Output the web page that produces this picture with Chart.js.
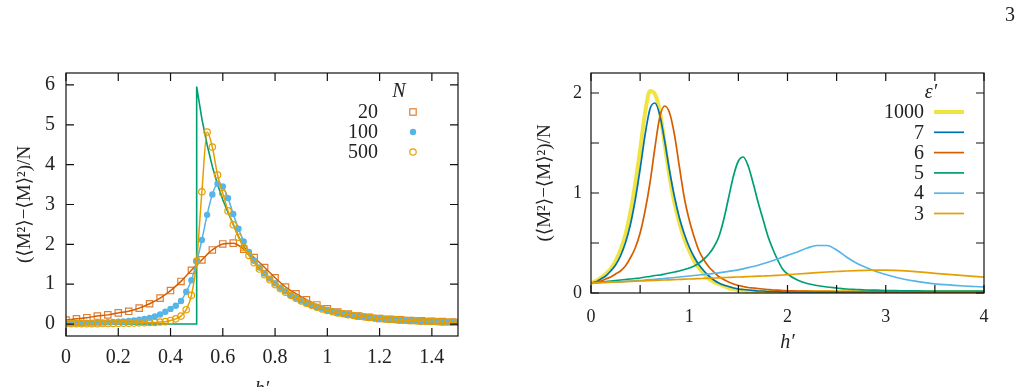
<!DOCTYPE html>
<html>
<head>
<meta charset="utf-8">
<script src="https://cdn.jsdelivr.net/npm/chart.js@4.4.0/dist/chart.umd.min.js"></script>
<style>
  html, body { margin: 0; padding: 0; background: #fff; overflow: hidden; }
  body { width: 1021px; height: 387px; position: relative; }
  #left { position: absolute; left: 0; top: 0; }
  #right { position: absolute; left: 500px; top: 0; }
  #page { position: absolute; left: 1005px; top: 4px; font: 20px/20px "Liberation Serif", serif; color: #222; }
</style>
</head>
<body>
<canvas id="left" width="480" height="410"></canvas>
<canvas id="right" width="521" height="387"></canvas>
<div id="page">3</div>
<script>
// ---- left panel : fluctuations vs h' for several N ----
const hFine = [0,0.02,0.04,0.06,0.08,0.1,0.12,0.14,0.16,0.18,0.2,0.22,0.24,0.26,0.28,0.3,0.32,0.34,0.36,0.38,
  0.4,0.42,0.44,0.46,0.48,0.5,0.52,0.54,0.56,0.58,0.6,0.62,0.64,0.66,0.68,0.7,0.72,0.74,0.76,0.78,
  0.8,0.82,0.84,0.86,0.88,0.9,0.92,0.94,0.96,0.98,1,1.02,1.04,1.06,1.08,1.1,1.12,1.14,1.16,1.18,
  1.2,1.22,1.24,1.26,1.28,1.3,1.32,1.34,1.36,1.38,1.4,1.42,1.44,1.46,1.48,1.5];
const hCoarse = [0,0.04,0.08,0.12,0.16,0.2,0.24,0.28,0.32,0.36,0.4,0.44,0.48,0.52,0.56,0.6,0.64,0.68,0.72,0.76,
  0.8,0.84,0.88,0.92,0.96,1,1.04,1.08,1.12,1.16,1.2,1.24,1.28,1.32,1.36,1.4,1.44,1.48];
const chiN20 = [0.10,0.13,0.16,0.20,0.23,0.28,0.32,0.40,0.51,0.65,0.84,1.07,1.35,1.61,1.86,2.01,2.03,1.88,1.67,1.42,
  1.16,0.93,0.76,0.61,0.48,0.38,0.30,0.25,0.20,0.17,0.14,0.12,0.105,0.09,0.08,0.07,0.06,0.05];
const chiN100 = [0.02,0.02,0.025,0.025,0.03,0.03,0.035,0.04,0.045,0.05,
  0.06,0.065,0.075,0.09,0.11,0.13,0.155,0.19,0.24,0.31,
  0.38,0.46,0.58,0.81,1.10,1.57,2.11,2.74,3.25,3.52,
  3.45,3.16,2.76,2.39,2.07,1.81,1.59,1.42,1.27,1.14,
  1.02,0.91,0.82,0.73,0.66,0.59,0.53,0.48,0.43,0.39,
  0.35,0.32,0.29,0.26,0.24,0.22,0.20,0.18,0.16,0.145,
  0.13,0.12,0.115,0.105,0.10,0.09,0.085,0.08,0.075,0.07,
  0.065,0.06,0.055,0.05,0.045,0.04];
const chiN500 = [0.01,0.01,0.01,0.01,0.01,0.01,0.01,0.012,0.013,0.015,
  0.017,0.02,0.022,0.025,0.03,0.035,0.04,0.04,0.05,0.06,
  0.09,0.13,0.20,0.36,0.72,1.58,3.32,4.82,4.44,3.74,
  3.28,2.84,2.49,2.18,1.92,1.72,1.54,1.38,1.24,1.11,
  0.99,0.89,0.80,0.72,0.65,0.58,0.52,0.47,0.42,0.38,
  0.34,0.31,0.28,0.26,0.235,0.215,0.195,0.18,0.165,0.15,
  0.14,0.125,0.115,0.11,0.10,0.095,0.09,0.08,0.075,0.07,
  0.065,0.06,0.055,0.05,0.045,0.04];
// N -> infinity limit (green, not in the key)
const hLimit = [0,0.5,0.5,0.52,0.54,0.56,0.58,0.6,0.62,0.64,0.66,0.68,0.7,0.72,0.74,0.76,0.78,
  0.8,0.82,0.84,0.86,0.88,0.9,0.92,0.94,0.96,0.98,1,1.02,1.04,1.06,1.08,1.1,1.12,1.14,1.16,1.18,
  1.2,1.22,1.24,1.26,1.28,1.3,1.32,1.34,1.36,1.38,1.4,1.42,1.44,1.46,1.48,1.5];
const chiLimit = [0,0,5.96,5.15,4.5,3.95,3.5,3.12,2.8,2.5,2.2,1.95,1.74,1.56,1.4,1.26,1.13,
  1.01,0.9,0.81,0.72,0.65,0.58,0.52,0.47,0.42,0.38,0.34,0.31,0.28,0.26,0.235,0.215,0.195,0.18,0.165,0.15,
  0.14,0.125,0.115,0.11,0.10,0.095,0.09,0.08,0.075,0.07,0.065,0.06,0.055,0.05,0.045,0.04];
const labelsN = ['20', '100', '500'];
const leftXTicks = [0,0.2,0.4,0.6,0.8,1,1.2,1.4];
const leftYTicks = [0,1,2,3,4,5,6];

// ---- right panel : fluctuations vs h' for several eps' ----
const hRight = [0,0.05,0.1,0.15,0.2,0.25,0.3,0.35,0.4,0.45,0.5,0.55,0.6,0.65,0.7,0.75,0.8,0.85,0.9,0.95,
  1,1.05,1.1,1.15,1.2,1.25,1.3,1.35,1.4,1.45,1.5,1.55,1.6,1.65,1.7,1.75,1.8,1.85,1.9,1.95,2,
  2.1,2.2,2.3,2.4,2.5,2.6,2.7,2.8,2.9,3,3.1,3.2,3.3,3.4,3.5,3.6,3.7,3.8,3.9,4];
const epsLabels = ['1000', '7', '6', '5', '4', '3'];
const chiEps1000 = [0.10,0.12,0.15,0.19,0.24,0.32,0.43,0.58,0.80,1.09,
  1.43,1.80,2.02,1.99,1.82,1.49,1.16,0.90,0.70,0.54,
  0.42,0.32,0.25,0.19,0.14,0.11,0.09,0.07,0.05,0.04,
  0.03,0.025,0.02,0.02,0.015,0.015,0.012,0.012,0.01,0.01,0.01,
  0.01,0.01,0.01,0.01,0.01,0.01,0.01,0.01,0.01,0.01,0.01,0.01,0.01,0.01,0.01,0.01,0.01,0.01,0.01,0.01];
const chiEps7 = [0.10,0.11,0.14,0.17,0.22,0.28,0.37,0.50,0.68,0.93,
  1.24,1.58,1.84,1.90,1.78,1.52,1.22,0.96,0.75,0.59,
  0.46,0.36,0.28,0.22,0.17,0.13,0.10,0.08,0.065,0.05,
  0.04,0.035,0.03,0.025,0.02,0.02,0.015,0.015,0.015,0.01,0.01,
  0.01,0.01,0.01,0.01,0.01,0.01,0.01,0.01,0.01,0.01,0.01,0.01,0.01,0.01,0.01,0.01,0.01,0.01,0.01,0.01];
const chiEps6 = [0.10,0.11,0.12,0.14,0.16,0.19,0.22,0.27,0.35,0.45,
  0.60,0.82,1.10,1.45,1.76,1.87,1.80,1.58,1.26,0.95,
  0.73,0.56,0.42,0.33,0.26,0.21,0.165,0.135,0.11,0.09,
  0.075,0.065,0.055,0.05,0.045,0.04,0.035,0.03,0.028,0.025,0.022,
  0.02,0.018,0.017,0.016,0.015,0.014,0.013,0.013,0.012,0.012,0.011,0.011,0.011,0.01,0.01,0.01,0.01,0.01,0.01,0.01];
const chiEps5 = [0.10,0.105,0.11,0.115,0.12,0.125,0.13,0.135,0.14,0.145,
  0.15,0.16,0.165,0.175,0.18,0.19,0.20,0.21,0.22,0.235,
  0.25,0.27,0.30,0.34,0.39,0.46,0.56,0.73,0.95,1.17,
  1.32,1.36,1.27,1.10,0.91,0.74,0.57,0.44,0.33,0.24,0.19,
  0.13,0.095,0.075,0.06,0.05,0.04,0.035,0.03,0.028,0.025,0.023,0.022,0.021,0.02,0.02,0.02,0.02,0.02,0.02,0.02];
const chiEps4 = [0.10,0.102,0.104,0.106,0.108,0.11,0.113,0.116,0.119,0.122,
  0.125,0.129,0.133,0.137,0.141,0.145,0.15,0.155,0.16,0.165,
  0.17,0.175,0.18,0.185,0.19,0.196,0.202,0.209,0.216,0.224,
  0.232,0.242,0.253,0.265,0.278,0.292,0.307,0.323,0.34,0.358,0.376,
  0.41,0.45,0.475,0.475,0.43,0.36,0.30,0.255,0.215,0.185,0.158,0.135,0.118,0.104,0.092,0.083,0.076,0.07,0.065,0.06];
const chiEps3 = [0.10,0.102,0.104,0.106,0.108,0.11,0.112,0.114,0.116,0.118,
  0.12,0.122,0.124,0.126,0.128,0.13,0.132,0.134,0.136,0.138,
  0.14,0.142,0.144,0.146,0.148,0.15,0.152,0.154,0.156,0.158,
  0.16,0.162,0.164,0.166,0.168,0.17,0.172,0.174,0.177,0.18,0.183,
  0.19,0.197,0.204,0.21,0.215,0.22,0.224,0.227,0.229,0.229,0.226,0.221,0.214,0.206,0.197,0.189,0.181,0.173,0.166,0.16];
const rightXTicks = [0,0.5,1,1.5,2,2.5,3,3.5,4];
const rightYTicks = [0,0.5,1,1.5,2];

const yTitle = '(\u27E8M\u00B2\u27E9\u2212\u27E8M\u27E9\u00B2)/N';
const serif = '"Liberation Serif", "DejaVu Serif", serif';

Chart.defaults.font.family = serif;
Chart.defaults.color = '#222';

const pts = (xs, ys) => xs.map((x, i) => ({x: x, y: ys[i]}));

// box round the plot with gnuplot style inward ticks on all four sides
function frameTicks(xTicks, yTicks, len) {
  return {
    id: 'frameTicks',
    afterDatasetsDraw(chart) {
      const {ctx, chartArea: a, scales: {x, y}} = chart;
      ctx.save();
      ctx.strokeStyle = '#111';
      ctx.lineWidth = 1.2;
      ctx.beginPath();
      xTicks.forEach(v => {
        const px = x.getPixelForValue(v);
        ctx.moveTo(px, a.bottom); ctx.lineTo(px, a.bottom - len);
        ctx.moveTo(px, a.top); ctx.lineTo(px, a.top + len);
      });
      yTicks.forEach(v => {
        const py = y.getPixelForValue(v);
        ctx.moveTo(a.left, py); ctx.lineTo(a.left + len, py);
        ctx.moveTo(a.right, py); ctx.lineTo(a.right - len, py);
      });
      ctx.stroke();
      ctx.strokeRect(a.left, a.top, a.right - a.left, a.bottom - a.top);
      ctx.restore();
    }
  };
}

// key of the left panel: title N, labels right aligned, marker on the right
const keyLeft = {
  id: 'keyLeft',
  afterDraw(chart) {
    const {ctx, chartArea: a} = chart;
    ctx.save();
    ctx.fillStyle = '#222';
    ctx.textBaseline = 'middle';
    ctx.textAlign = 'center';
    ctx.font = 'italic 20px ' + serif;
    ctx.fillText('N', a.right - 59, a.top + 19);
    ctx.textAlign = 'right';
    ctx.font = '20px ' + serif;
    chart.data.datasets.slice(1).forEach((ds, i) => {
      const yy = a.top + 39 + 20 * i;
      ctx.fillText(ds.label, a.right - 80, yy + 1);
      const mx = a.right - 45;
      ctx.lineWidth = 1.2;
      ctx.strokeStyle = ds.pointBorderColor;
      ctx.fillStyle = ds.pointBackgroundColor;
      if (ds.pointStyle === 'rect') {
        ctx.strokeRect(mx - 3.2, yy - 3.2, 6.4, 6.4);
      } else {
        ctx.beginPath();
        ctx.arc(mx, yy, ds.pointRadius, 0, Math.PI * 2);
        ctx.fill();
        if (ds.pointBorderWidth > 0) ctx.stroke();
      }
      ctx.fillStyle = '#222';
    });
    ctx.restore();
  }
};

// key of the right panel: title eps', labels right aligned, line sample on the right
const keyRight = {
  id: 'keyRight',
  afterDraw(chart) {
    const {ctx, chartArea: a} = chart;
    ctx.save();
    ctx.fillStyle = '#222';
    ctx.textBaseline = 'middle';
    ctx.textAlign = 'center';
    ctx.font = 'italic 20px ' + serif;
    ctx.fillText('\u03B5\u2032', a.right - 53, a.top + 20);
    ctx.textAlign = 'right';
    ctx.font = '20px ' + serif;
    chart.data.datasets.forEach((ds, i) => {
      const yy = a.top + 39 + 20.3 * i;
      ctx.fillText(ds.label, a.right - 60, yy + 1);
      ctx.strokeStyle = ds.borderColor;
      ctx.lineWidth = ds.borderWidth;
      ctx.beginPath();
      ctx.moveTo(a.right - 50, yy);
      ctx.lineTo(a.right - 20, yy);
      ctx.stroke();
    });
    ctx.restore();
  }
};

new Chart(document.getElementById('left'), {
  type: 'line',
  data: {
    datasets: [
      {label: 'limit', data: pts(hLimit, chiLimit), borderColor: '#009e73', borderWidth: 1.6,
       pointRadius: 0, tension: 0, order: 4},
      {label: labelsN[0], data: pts(hCoarse, chiN20), borderColor: '#d55e00', borderWidth: 1.5,
       pointStyle: 'rect', pointRadius: 4.5, pointBorderWidth: 1.2,
       pointBorderColor: 'rgba(213,94,0,0.8)', pointBackgroundColor: 'rgba(0,0,0,0)',
       cubicInterpolationMode: 'monotone', order: 3},
      {label: labelsN[1], data: pts(hFine, chiN100), borderColor: '#56b4e9', borderWidth: 1.5,
       pointStyle: 'circle', pointRadius: 3.2, pointBorderWidth: 0,
       pointBorderColor: '#56b4e9', pointBackgroundColor: '#56b4e9',
       cubicInterpolationMode: 'monotone', order: 2},
      {label: labelsN[2], data: pts(hFine, chiN500), borderColor: '#e69f00', borderWidth: 1.5,
       pointStyle: 'circle', pointRadius: 3.2, pointBorderWidth: 1.2,
       pointBorderColor: '#e69f00', pointBackgroundColor: 'rgba(0,0,0,0)',
       cubicInterpolationMode: 'monotone', order: 1}
    ]
  },
  options: {
    responsive: false,
    devicePixelRatio: 1,
    animation: false,
    events: [],
    layout: {padding: {top: 73, right: 22, left: 0, bottom: 0}},
    plugins: {legend: {display: false}, tooltip: {enabled: false}},
    scales: {
      x: {
        type: 'linear', min: 0, max: 1.5,
        grid: {display: false, drawTicks: false},
        border: {display: false},
        afterBuildTicks: s => { s.ticks = leftXTicks.map(v => ({value: v})); },
        afterFit: s => { s.height = 74; },
        ticks: {autoSkip: false, maxRotation: 0, padding: 10, font: {size: 20},
                callback: v => String(+v.toFixed(1))},
        title: {display: true, text: 'h\u2032', font: {size: 20, style: 'italic'}, padding: {bottom: 8}}
      },
      y: {
        type: 'linear', min: -0.3, max: 6.3,
        grid: {display: false, drawTicks: false},
        border: {display: false},
        afterBuildTicks: s => { s.ticks = leftYTicks.map(v => ({value: v})); },
        afterFit: s => { s.width = 66; },
        ticks: {autoSkip: false, padding: 11, font: {size: 20}, callback: v => String(v)},
        title: {display: true, text: yTitle, font: {size: 19}, padding: {top: 14}}
      }
    }
  },
  plugins: [frameTicks(leftXTicks, leftYTicks, 8), keyLeft]
});

new Chart(document.getElementById('right'), {
  type: 'line',
  data: {
    datasets: [
      {label: epsLabels[0], data: pts(hRight, chiEps1000), borderColor: '#f0e442', borderWidth: 4, order: 6},
      {label: epsLabels[1], data: pts(hRight, chiEps7), borderColor: '#0072b2', borderWidth: 1.7, order: 5},
      {label: epsLabels[2], data: pts(hRight, chiEps6), borderColor: '#d55e00', borderWidth: 1.7, order: 4},
      {label: epsLabels[3], data: pts(hRight, chiEps5), borderColor: '#009e73', borderWidth: 1.7, order: 3},
      {label: epsLabels[4], data: pts(hRight, chiEps4), borderColor: '#56b4e9', borderWidth: 1.7, order: 2},
      {label: epsLabels[5], data: pts(hRight, chiEps3), borderColor: '#e69f00', borderWidth: 1.7, order: 1}
    ]
  },
  options: {
    responsive: false,
    devicePixelRatio: 1,
    animation: false,
    events: [],
    layout: {padding: {top: 73, right: 37, left: 0, bottom: 0}},
    elements: {point: {radius: 0}, line: {cubicInterpolationMode: 'monotone'}},
    plugins: {legend: {display: false}, tooltip: {enabled: false}},
    scales: {
      x: {
        type: 'linear', min: 0, max: 4,
        grid: {display: false, drawTicks: false},
        border: {display: false},
        afterBuildTicks: s => { s.ticks = rightXTicks.map(v => ({value: v})); },
        afterFit: s => { s.height = 94; },
        ticks: {autoSkip: false, maxRotation: 0, padding: 13, font: {size: 18},
                callback: v => Number.isInteger(v) ? String(v) : ''},
        title: {display: true, text: 'h\u2032', font: {size: 20, style: 'italic'}, padding: {bottom: 32}}
      },
      y: {
        type: 'linear', min: 0, max: 2.2,
        grid: {display: false, drawTicks: false},
        border: {display: false},
        afterBuildTicks: s => { s.ticks = rightYTicks.map(v => ({value: v})); },
        afterFit: s => { s.width = 91; },
        ticks: {autoSkip: false, padding: 9, font: {size: 18},
                callback: v => Number.isInteger(v) ? String(v) : ''},
        title: {display: true, text: yTitle, font: {size: 19}, padding: {top: 34}}
      }
    }
  },
  plugins: [frameTicks(rightXTicks, rightYTicks, 8), keyRight]
});
</script>
</body>
</html>
